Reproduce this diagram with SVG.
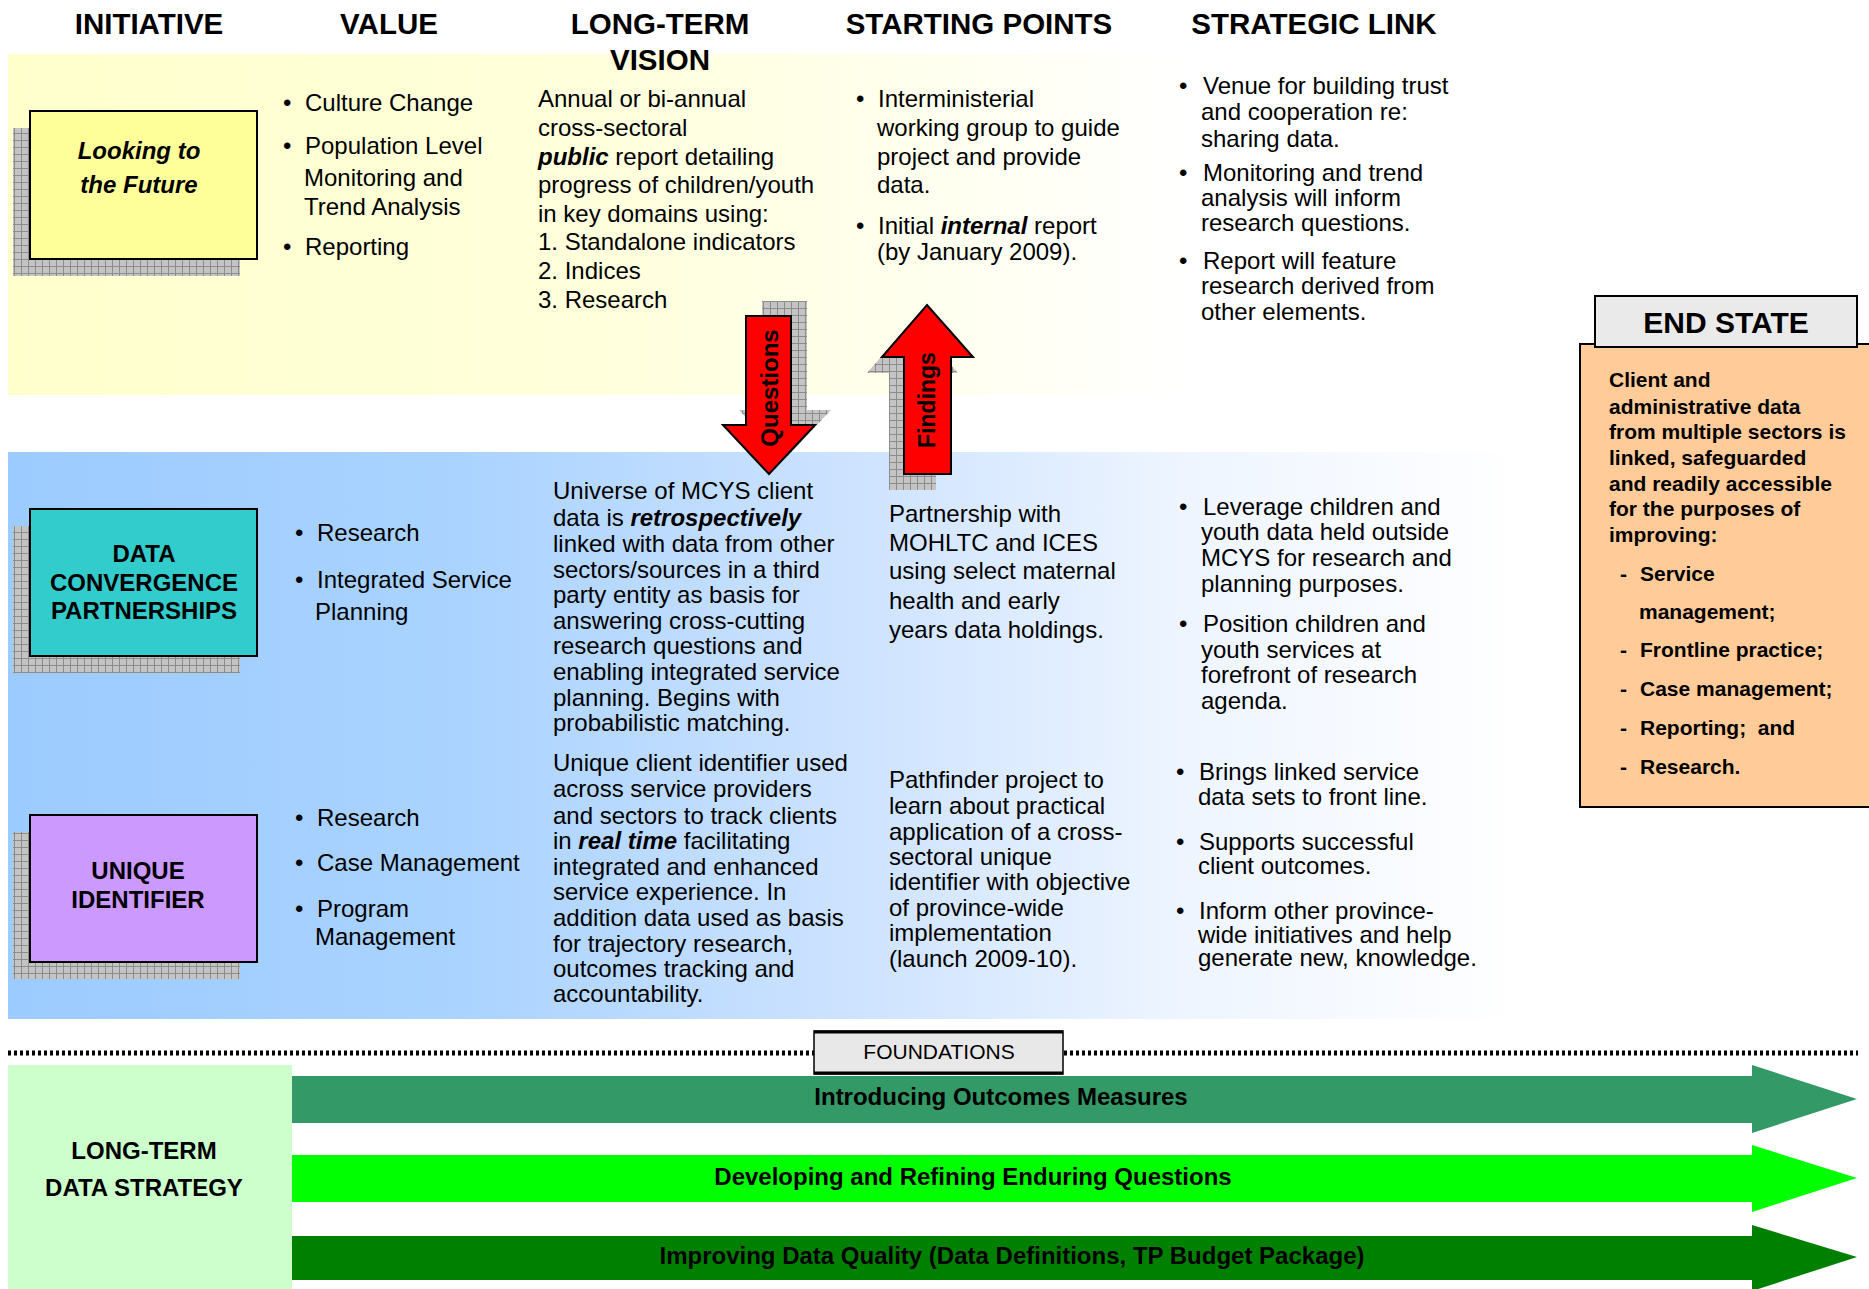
<svg xmlns="http://www.w3.org/2000/svg" width="1869" height="1289" viewBox="0 0 1869 1289">
<style>
text{font-family:"Liberation Sans",Arial,sans-serif;fill:#000}
.h{font-size:29.5px;font-weight:bold;text-anchor:middle}
.t{font-size:24px}
.b{font-weight:bold}
.bi{font-weight:bold;font-style:italic}
.c{text-anchor:middle}
.es{font-size:21px;font-weight:bold}
.box{stroke:#000;stroke-width:2}
.red{fill:#FF0000;stroke:#000;stroke-width:2}
</style>
<defs>
<pattern id="grid" width="7" height="7" patternUnits="userSpaceOnUse">
<rect width="7" height="7" fill="#C4C4C4"/>
<path d="M0 0.5H7M0.5 0V7" stroke="#8C8C8C" stroke-width="1"/>
</pattern>
<linearGradient id="yel" x1="0" y1="0" x2="1" y2="0">
<stop offset="0" stop-color="#FFFFCC"/>
<stop offset="0.5" stop-color="#FFFFDC"/>
<stop offset="0.8" stop-color="#FFFFF0"/>
<stop offset="1" stop-color="#FFFFFF"/>
</linearGradient>
<linearGradient id="blu" x1="0" y1="0" x2="1" y2="0">
<stop offset="0" stop-color="#9CCBFF"/>
<stop offset="0.3" stop-color="#AAD3FF"/>
<stop offset="0.55" stop-color="#CCE2FF"/>
<stop offset="0.78" stop-color="#EEF5FF"/>
<stop offset="1" stop-color="#FFFFFF"/>
</linearGradient>
</defs>
<rect width="1869" height="1289" fill="#FFFFFF"/>

<g id="bands">
<rect x="8" y="54" width="1185" height="341" fill="url(#yel)"/>
<rect x="8" y="452" width="1512" height="567" fill="url(#blu)"/>
</g>

<g id="headers">
<text class="h" x="149" y="34">INITIATIVE</text>
<text class="h" x="389" y="34">VALUE</text>
<text class="h" x="660" y="34">LONG-TERM</text>
<text class="h" x="660" y="70">VISION</text>
<text class="h" x="979" y="34">STARTING POINTS</text>
<text class="h" x="1314" y="34">STRATEGIC LINK</text>
</g>

<g id="looking-to-the-future">
<rect x="13" y="128" width="227" height="148" fill="url(#grid)"/>
<rect class="box" x="30" y="111" width="227" height="148" fill="#FFFF99"/>
<text class="t bi c" x="139" y="159">Looking to</text>
<text class="t bi c" x="139" y="193">the Future</text>
</g>

<g id="data-convergence-partnerships">
<rect x="13" y="526" width="227" height="147" fill="url(#grid)"/>
<rect class="box" x="30" y="509" width="227" height="147" fill="#33CCCC"/>
<text class="t b c" x="144" y="562">DATA</text>
<text class="t b c" x="144" y="591">CONVERGENCE</text>
<text class="t b c" x="144" y="619">PARTNERSHIPS</text>
</g>

<g id="unique-identifier">
<rect x="13" y="832" width="227" height="147" fill="url(#grid)"/>
<rect class="box" x="30" y="815" width="227" height="147" fill="#CC99FF"/>
<text class="t b c" x="138" y="879">UNIQUE</text>
<text class="t b c" x="138" y="908">IDENTIFIER</text>
</g>

<g id="value-1" class="t">
<text class="t" x="283" y="111">•</text><text class="t" x="305" y="111">Culture Change</text>
<text class="t" x="283" y="154">•</text><text class="t" x="305" y="154">Population Level</text>
<text class="t" x="304" y="186">Monitoring and</text>
<text class="t" x="304" y="215">Trend Analysis</text>
<text class="t" x="283" y="255">•</text><text class="t" x="305" y="255">Reporting</text>
</g>

<g id="vision-1">
<text class="t" x="538" y="107">Annual or bi-annual</text>
<text class="t" x="538" y="136">cross-sectoral</text>
<text class="t" x="538" y="165"><tspan class="bi">public</tspan> report detailing</text>
<text class="t" x="538" y="193">progress of children/youth</text>
<text class="t" x="538" y="222">in key domains using:</text>
<text class="t" x="538" y="250">1. Standalone indicators</text>
<text class="t" x="538" y="279">2. Indices</text>
<text class="t" x="538" y="308">3. Research</text>
</g>

<g id="start-1">
<text class="t" x="856" y="107">•</text><text class="t" x="878" y="107">Interministerial</text>
<text class="t" x="877" y="136">working group to guide</text>
<text class="t" x="877" y="165">project and provide</text>
<text class="t" x="877" y="193">data.</text>
<text class="t" x="856" y="234">•</text><text class="t" x="878" y="234">Initial <tspan class="bi">internal</tspan> report</text>
<text class="t" x="877" y="260">(by January 2009).</text>
</g>

<g id="link-1">
<text class="t" x="1179" y="94">•</text><text class="t" x="1203" y="94">Venue for building trust</text>
<text class="t" x="1201" y="120">and cooperation re:</text>
<text class="t" x="1201" y="147">sharing data.</text>
<text class="t" x="1179" y="181">•</text><text class="t" x="1203" y="181">Monitoring and trend</text>
<text class="t" x="1201" y="206">analysis will inform</text>
<text class="t" x="1201" y="231">research questions.</text>
<text class="t" x="1179" y="269">•</text><text class="t" x="1203" y="269">Report will feature</text>
<text class="t" x="1201" y="294">research derived from</text>
<text class="t" x="1201" y="320">other elements.</text>
</g>

<g id="value-2">
<text class="t" x="295" y="541">•</text><text class="t" x="317" y="541">Research</text>
<text class="t" x="295" y="588">•</text><text class="t" x="317" y="588">Integrated Service</text>
<text class="t" x="315" y="620">Planning</text>
</g>

<g id="value-3">
<text class="t" x="295" y="826">•</text><text class="t" x="317" y="826">Research</text>
<text class="t" x="295" y="871">•</text><text class="t" x="317" y="871">Case Management</text>
<text class="t" x="295" y="917">•</text><text class="t" x="317" y="917">Program</text>
<text class="t" x="315" y="945">Management</text>
</g>

<g id="vision-2">
<text class="t" x="553" y="499">Universe of MCYS client</text>
<text class="t" x="553" y="526">data is <tspan class="bi">retrospectively</tspan></text>
<text class="t" x="553" y="552">linked with data from other</text>
<text class="t" x="553" y="578">sectors/sources in a third</text>
<text class="t" x="553" y="603">party entity as basis for</text>
<text class="t" x="553" y="629">answering cross-cutting</text>
<text class="t" x="553" y="654">research questions and</text>
<text class="t" x="553" y="680">enabling integrated service</text>
<text class="t" x="553" y="706">planning. Begins with</text>
<text class="t" x="553" y="731">probabilistic matching.</text>
</g>

<g id="vision-3">
<text class="t" x="553" y="771">Unique client identifier used</text>
<text class="t" x="553" y="797">across service providers</text>
<text class="t" x="553" y="824">and sectors to track clients</text>
<text class="t" x="553" y="849">in <tspan class="bi">real time</tspan> facilitating</text>
<text class="t" x="553" y="875">integrated and enhanced</text>
<text class="t" x="553" y="900">service experience. In</text>
<text class="t" x="553" y="926">addition data used as basis</text>
<text class="t" x="553" y="952">for trajectory research,</text>
<text class="t" x="553" y="977">outcomes tracking and</text>
<text class="t" x="553" y="1002">accountability.</text>
</g>

<g id="start-2">
<text class="t" x="889" y="522">Partnership with</text>
<text class="t" x="889" y="551">MOHLTC and ICES</text>
<text class="t" x="889" y="579">using select maternal</text>
<text class="t" x="889" y="609">health and early</text>
<text class="t" x="889" y="638">years data holdings.</text>
</g>

<g id="start-3">
<text class="t" x="889" y="788">Pathfinder project to</text>
<text class="t" x="889" y="814">learn about practical</text>
<text class="t" x="889" y="840">application of a cross-</text>
<text class="t" x="889" y="865">sectoral unique</text>
<text class="t" x="889" y="890">identifier with objective</text>
<text class="t" x="889" y="916">of province-wide</text>
<text class="t" x="889" y="941">implementation</text>
<text class="t" x="889" y="967">(launch 2009-10).</text>
</g>

<g id="link-2">
<text class="t" x="1179" y="515">•</text><text class="t" x="1203" y="515">Leverage children and</text>
<text class="t" x="1201" y="540">youth data held outside</text>
<text class="t" x="1201" y="566">MCYS for research and</text>
<text class="t" x="1201" y="592">planning purposes.</text>
<text class="t" x="1179" y="632">•</text><text class="t" x="1203" y="632">Position children and</text>
<text class="t" x="1201" y="658">youth services at</text>
<text class="t" x="1201" y="683">forefront of research</text>
<text class="t" x="1201" y="709">agenda.</text>
</g>

<g id="link-3">
<text class="t" x="1176" y="780">•</text><text class="t" x="1199" y="780">Brings linked service</text>
<text class="t" x="1198" y="805">data sets to front line.</text>
<text class="t" x="1176" y="850">•</text><text class="t" x="1199" y="850">Supports successful</text>
<text class="t" x="1198" y="874">client outcomes.</text>
<text class="t" x="1176" y="919">•</text><text class="t" x="1199" y="919">Inform other province-</text>
<text class="t" x="1198" y="943">wide initiatives and help</text>
<text class="t" x="1198" y="966">generate new, knowledge.</text>
</g>

<g id="end-state">
<rect class="box" x="1580" y="344" width="292" height="463" fill="#FFCC99"/>
<rect class="box" x="1595" y="296" width="262" height="51" fill="#EAEAEA"/>
<text class="h" x="1726" y="333" style="font-size:30px">END STATE</text>
<text class="es" x="1609" y="387">Client and</text>
<text class="es" x="1609" y="414">administrative data</text>
<text class="es" x="1609" y="439">from multiple sectors is</text>
<text class="es" x="1609" y="465">linked, safeguarded</text>
<text class="es" x="1609" y="491">and readily accessible</text>
<text class="es" x="1609" y="516">for the purposes of</text>
<text class="es" x="1609" y="542">improving:</text>
<text class="es" x="1620" y="581">-</text><text class="es" x="1640" y="581">Service</text>
<text class="es" x="1639" y="619">management;</text>
<text class="es" x="1620" y="657">-</text><text class="es" x="1640" y="657">Frontline practice;</text>
<text class="es" x="1620" y="696">-</text><text class="es" x="1640" y="696">Case management;</text>
<text class="es" x="1620" y="735">-</text><text class="es" x="1640" y="735" xml:space="preserve">Reporting;  and</text>
<text class="es" x="1620" y="774">-</text><text class="es" x="1640" y="774">Research.</text>
</g>

<g id="connectors">
<polygon points="762,301 807,301 807,410 831,410 785,459 739,410 762,410" fill="url(#grid)"/>
<polygon class="red" points="746,316 791,316 791,425 815,425 769,474 723,425 746,425"/>
<text class="b c" font-size="24" transform="translate(778,388) rotate(-90)">Questions</text>
<polygon points="912,321 958,373 936,373 936,490 889,490 889,373 867,373" fill="url(#grid)"/>
<polygon class="red" points="927,305 973,357 951,357 951,474 904,474 904,357 882,357"/>
<text class="b c" font-size="23" transform="translate(935,400) rotate(-90)">Findings</text>
</g>

<g id="foundations">
<line x1="8" y1="1053" x2="1858" y2="1053" stroke="#000" stroke-width="5" stroke-dasharray="3 3"/>
<rect x="814" y="1031" width="249" height="43" fill="#E8E8E8" stroke="#000" stroke-width="1.5"/>
<line x1="814" y1="1032" x2="1063" y2="1032" stroke="#000" stroke-width="3"/>
<line x1="814" y1="1073" x2="1063" y2="1073" stroke="#000" stroke-width="3"/>
<text class="c" font-size="21" x="939" y="1059">FOUNDATIONS</text>
</g>

<g id="long-term-data-strategy">
<rect x="8" y="1065" width="284" height="224" fill="#CCFFCC"/>
<text class="t b c" x="144" y="1159">LONG-TERM</text>
<text class="t b c" x="144" y="1196">DATA STRATEGY</text>
</g>

<g id="arrow-outcomes">
<polygon points="292,1076 1752,1076 1752,1065 1857,1099 1752,1133 1752,1123 292,1123" fill="#339966"/>
<text class="t b c" x="1001" y="1105">Introducing Outcomes Measures</text>
</g>
<g id="arrow-questions">
<polygon points="292,1155 1752,1155 1752,1145 1857,1178 1752,1212 1752,1202 292,1202" fill="#00FF00"/>
<text class="t b c" x="973" y="1185">Developing and Refining Enduring Questions</text>
</g>
<g id="arrow-quality">
<polygon points="292,1236 1752,1236 1752,1225 1857,1257 1752,1291 1752,1280 292,1280" fill="#008000"/>
<text class="t b c" x="1012" y="1264">Improving Data Quality (Data Definitions, TP Budget Package)</text>
</g>
</svg>
